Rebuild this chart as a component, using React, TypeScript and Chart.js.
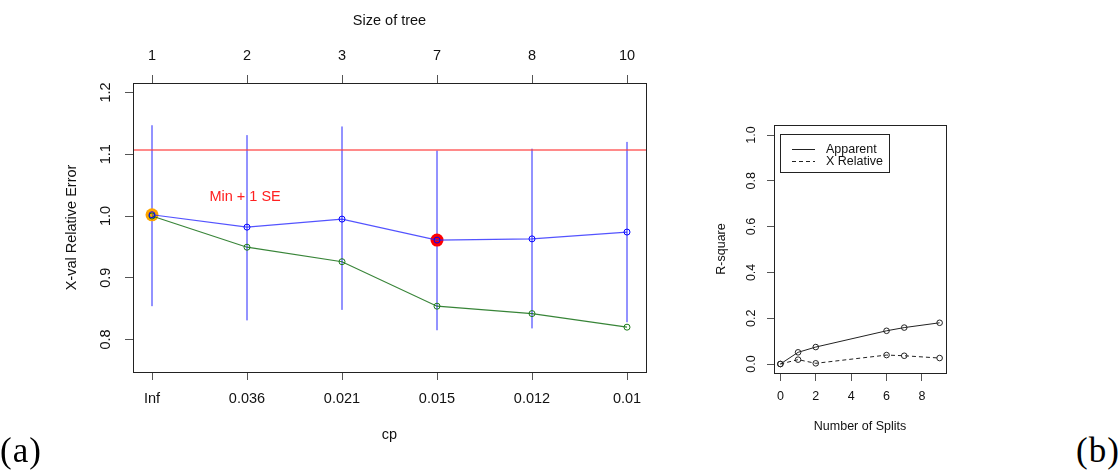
import React, { useEffect, useRef } from "react";
import { Chart, registerables } from "chart.js";

Chart.register(...registerables);

const FONT = "'Liberation Sans', Arial, Helvetica, sans-serif";

// ---------- (a) cross-validation plot ----------
const cpLabels = ["Inf", "0.036", "0.021", "0.015", "0.012", "0.01"];
const treeSizes = ["1", "2", "3", "7", "8", "10"];
const xvalError = [1.002, 0.982, 0.995, 0.961, 0.963, 0.974];
const xvalUpper = [1.147, 1.131, 1.145, 1.106, 1.109, 1.12];
const xvalLower = [0.854, 0.831, 0.848, 0.815, 0.818, 0.828];
const relError = [1.0, 0.9495, 0.926, 0.854, 0.842, 0.82];
const minPlus1SE = 1.107;
const leftYTicks = [0.8, 0.9, 1.0, 1.1, 1.2];
const seLabel = "Min + 1 SE";
const seLabelPos = { x: 1.98, y: 1.031 };

// ---------- (b) R-square plot ----------
const splits = [0, 1, 2, 6, 7, 9];
const apparentR2 = [0, 0.051, 0.074, 0.145, 0.159, 0.18];
const xRelativeR2 = [0, 0.019, 0.003, 0.039, 0.036, 0.026];
const rightXTicks = [0, 2, 4, 6, 8];
const rightYTicks = [0, 0.2, 0.4, 0.6, 0.8, 1.0];
const legendLabels = ["Apparent", "X Relative"];

const boxPlugin = {
  id: "rbox",
  afterDraw(chart: any) {
    const { ctx, chartArea: a } = chart;
    ctx.save();
    ctx.strokeStyle = "#222";
    ctx.lineWidth = 1;
    ctx.strokeRect(
      Math.round(a.left) + 0.5,
      Math.round(a.top) + 0.5,
      Math.round(a.right - a.left),
      Math.round(a.bottom - a.top)
    );
    ctx.restore();
  },
};

const seTextPlugin = {
  id: "seText",
  afterDatasetsDraw(chart: any) {
    const { ctx, scales } = chart;
    const px = scales.x.getPixelForValue(seLabelPos.x);
    const py = scales.y.getPixelForValue(seLabelPos.y);
    ctx.save();
    ctx.fillStyle = "#ff2020";
    ctx.font = `14.5px ${FONT}`;
    ctx.textAlign = "center";
    ctx.textBaseline = "middle";
    ctx.fillText(seLabel, px, py);
    ctx.restore();
  },
};

const legendBoxPlugin = {
  id: "legendBox",
  afterDraw(chart: any) {
    const { ctx, chartArea: a } = chart;
    const bx = a.left + 6;
    const by = a.top + 9;
    ctx.save();
    ctx.strokeStyle = "#222";
    ctx.lineWidth = 1;
    ctx.strokeRect(Math.round(bx) + 0.5, Math.round(by) + 0.5, 109, 38);
    ctx.font = `12.5px ${FONT}`;
    ctx.fillStyle = "#111";
    ctx.textBaseline = "middle";
    legendLabels.forEach((lab, i) => {
      const ly = Math.round(by + 15 + i * 12) + 0.5;
      ctx.beginPath();
      ctx.setLineDash(i === 1 ? [4, 3] : []);
      ctx.moveTo(bx + 12, ly);
      ctx.lineTo(bx + 35, ly);
      ctx.stroke();
      ctx.setLineDash([]);
      ctx.fillText(lab, bx + 46, ly);
    });
    ctx.restore();
  },
};

function LeftChart() {
  const ref = useRef<HTMLCanvasElement | null>(null);
  useEffect(() => {
    if (!ref.current) return;
    const tickFont = { family: FONT, size: 14.5 };
    const bars: any[] = [];
    cpLabels.forEach((_, i) => {
      bars.push({ x: i + 1, y: xvalLower[i] });
      bars.push({ x: i + 1, y: xvalUpper[i] });
      bars.push({ x: i + 1, y: null });
    });
    let redIndex = 0;
    xvalError.forEach((v, i) => {
      if (v < xvalError[redIndex]) redIndex = i;
    });
    const orangeIndex = xvalError.findIndex((v) => v < minPlus1SE);
    const chart = new Chart(ref.current, {
      type: "line",
      data: {
        datasets: [
          {
            label: "X-val error",
            data: cpLabels.map((_, i) => ({ x: i + 1, y: xvalError[i] })),
            borderColor: "rgba(40,40,255,0.8)",
            borderWidth: 1.2,
            pointRadius: 3,
            pointBorderColor: "#0000ff",
            pointBackgroundColor: "rgba(0,0,0,0)",
            pointBorderWidth: 1,
            order: 1,
          },
          {
            label: "Relative error",
            data: cpLabels.map((_, i) => ({ x: i + 1, y: relError[i] })),
            borderColor: "rgba(20,110,20,0.85)",
            borderWidth: 1.2,
            pointRadius: 3,
            pointBorderColor: "#1a7a1a",
            pointBackgroundColor: "rgba(0,0,0,0)",
            pointBorderWidth: 1,
            order: 2,
          },
          {
            label: "1-SE choice",
            data: [{ x: orangeIndex + 1, y: xvalError[orangeIndex] }],
            showLine: false,
            pointRadius: 6.5,
            pointBackgroundColor: "#ffa500",
            pointBorderColor: "#ffa500",
            pointBorderWidth: 0,
            order: 3,
          },
          {
            label: "Minimum",
            data: [{ x: redIndex + 1, y: xvalError[redIndex] }],
            showLine: false,
            pointRadius: 6.5,
            pointBackgroundColor: "#ff0000",
            pointBorderColor: "#ff0000",
            pointBorderWidth: 0,
            order: 3,
          },
          {
            label: "Min + 1 SE",
            data: [
              { x: 0.8, y: minPlus1SE },
              { x: 6.2, y: minPlus1SE },
            ],
            borderColor: "rgba(255,60,60,0.8)",
            borderWidth: 1.5,
            pointRadius: 0,
            order: 4,
          },
          {
            label: "Error bars",
            data: bars,
            borderColor: "rgba(0,0,255,0.85)",
            borderWidth: 1,
            pointRadius: 0,
            spanGaps: false,
            order: 5,
          },
        ],
      },
      options: {
        animation: false,
        responsive: false,
        maintainAspectRatio: false,
        layout: { padding: { left: 0, right: 54, top: 0, bottom: 0 } },
        plugins: { legend: { display: false }, tooltip: { enabled: false } },
        scales: {
          x: {
            type: "linear",
            position: "bottom",
            min: 0.8,
            max: 6.2,
            afterBuildTicks: (s: any) => {
              s.ticks = cpLabels.map((_, i) => ({ value: i + 1 }));
            },
            afterFit: (s: any) => {
              s.height = 98;
            },
            ticks: {
              autoSkip: false,
              maxRotation: 0,
              minRotation: 0,
              padding: 10,
              color: "#111",
              font: tickFont,
              callback: (v: any) => cpLabels[Math.round(Number(v)) - 1] ?? "",
            },
            grid: { drawOnChartArea: false, drawTicks: true, tickLength: 8, color: "#555" },
            border: { display: false },
            title: {
              display: true,
              text: "cp",
              color: "#111",
              font: tickFont,
              padding: { top: 0, bottom: 26 },
            },
          },
          xTop: {
            type: "linear",
            axis: "x",
            position: "top",
            min: 0.8,
            max: 6.2,
            afterBuildTicks: (s: any) => {
              s.ticks = treeSizes.map((_, i) => ({ value: i + 1 }));
            },
            afterFit: (s: any) => {
              s.height = 83;
            },
            ticks: {
              autoSkip: false,
              maxRotation: 0,
              minRotation: 0,
              padding: 10,
              color: "#111",
              font: tickFont,
              callback: (v: any) => treeSizes[Math.round(Number(v)) - 1] ?? "",
            },
            grid: { drawOnChartArea: false, drawTicks: true, tickLength: 8, color: "#555" },
            border: { display: false },
            title: {
              display: true,
              text: "Size of tree",
              color: "#111",
              font: tickFont,
              padding: { top: 12, bottom: 0 },
            },
          } as any,
          y: {
            type: "linear",
            position: "left",
            min: 0.7474,
            max: 1.2154,
            afterBuildTicks: (s: any) => {
              s.ticks = leftYTicks.map((v) => ({ value: v }));
            },
            afterFit: (s: any) => {
              s.width = 133;
            },
            ticks: {
              autoSkip: false,
              minRotation: 90,
              maxRotation: 90,
              crossAlign: "center",
              padding: 9,
              color: "#111",
              font: tickFont,
              callback: (v: any) => Number(v).toFixed(1),
            },
            grid: { drawOnChartArea: false, drawTicks: true, tickLength: 8, color: "#555" },
            border: { display: false },
            title: {
              display: true,
              text: "X-val Relative Error",
              color: "#111",
              font: tickFont,
              padding: { top: 63, bottom: 0 },
            },
          },
        },
      },
      plugins: [boxPlugin, seTextPlugin],
    } as any);
    return () => chart.destroy();
  }, []);
  return (
    <canvas
      ref={ref}
      width={700}
      height={470}
      style={{ position: "absolute", left: 0, top: 0, width: 700, height: 470 }}
    />
  );
}

function RightChart() {
  const ref = useRef<HTMLCanvasElement | null>(null);
  useEffect(() => {
    if (!ref.current) return;
    const f = { family: FONT, size: 12.5 };
    const chart = new Chart(ref.current, {
      type: "line",
      data: {
        datasets: [
          {
            label: legendLabels[0],
            data: splits.map((s, i) => ({ x: s, y: apparentR2[i] })),
            borderColor: "#222",
            borderWidth: 1,
            pointRadius: 2.8,
            pointBorderColor: "#222",
            pointBackgroundColor: "rgba(0,0,0,0)",
            pointBorderWidth: 1,
          },
          {
            label: legendLabels[1],
            data: splits.map((s, i) => ({ x: s, y: xRelativeR2[i] })),
            borderColor: "#222",
            borderWidth: 1,
            borderDash: [4, 3],
            pointRadius: 2.8,
            pointBorderColor: "#222",
            pointBackgroundColor: "rgba(0,0,0,0)",
            pointBorderWidth: 1,
          },
        ],
      },
      options: {
        animation: false,
        responsive: false,
        maintainAspectRatio: false,
        layout: { padding: { left: 0, right: 34, top: 125, bottom: 0 } },
        plugins: { legend: { display: false }, tooltip: { enabled: false } },
        scales: {
          x: {
            type: "linear",
            position: "bottom",
            min: -0.36,
            max: 9.36,
            afterBuildTicks: (s: any) => {
              s.ticks = rightXTicks.map((v) => ({ value: v }));
            },
            afterFit: (s: any) => {
              s.height = 97;
            },
            ticks: {
              autoSkip: false,
              maxRotation: 0,
              minRotation: 0,
              padding: 8,
              color: "#111",
              font: f,
              callback: (v: any) => String(Math.round(Number(v))),
            },
            grid: { drawOnChartArea: false, drawTicks: true, tickLength: 8, color: "#555" },
            border: { display: false },
            title: {
              display: true,
              text: "Number of Splits",
              color: "#111",
              font: f,
              padding: { top: 0, bottom: 36 },
            },
          },
          y: {
            type: "linear",
            position: "left",
            min: -0.0393,
            max: 1.0437,
            afterBuildTicks: (s: any) => {
              s.ticks = rightYTicks.map((v) => ({ value: v }));
            },
            afterFit: (s: any) => {
              s.width = 94;
            },
            ticks: {
              autoSkip: false,
              minRotation: 90,
              maxRotation: 90,
              crossAlign: "center",
              padding: 7,
              color: "#111",
              font: f,
              callback: (v: any) => Number(v).toFixed(1),
            },
            grid: { drawOnChartArea: false, drawTicks: true, tickLength: 7, color: "#555" },
            border: { display: false },
            title: {
              display: true,
              text: "R-square",
              color: "#111",
              font: f,
              padding: { top: 34, bottom: 0 },
            },
          },
        },
      },
      plugins: [boxPlugin, legendBoxPlugin],
    } as any);
    return () => chart.destroy();
  }, []);
  return (
    <canvas
      ref={ref}
      width={300}
      height={470}
      style={{ position: "absolute", left: 680, top: 0, width: 300, height: 470 }}
    />
  );
}

export default function App() {
  const labelStyle: React.CSSProperties = {
    position: "absolute",
    top: 433,
    fontFamily: "'Liberation Serif', 'Times New Roman', serif",
    fontSize: 35,
    lineHeight: "36px",
    letterSpacing: 1,
    color: "#000",
    whiteSpace: "nowrap",
  };
  return (
    <div
      style={{
        position: "absolute",
        left: 0,
        top: 0,
        width: 1118,
        height: 470,
        background: "#fff",
        overflow: "hidden",
      }}
    >
      <LeftChart />
      <RightChart />
      <div style={{ ...labelStyle, left: 0 }}>(a)</div>
      <div style={{ ...labelStyle, left: 1076 }}>(b)</div>
    </div>
  );
}
